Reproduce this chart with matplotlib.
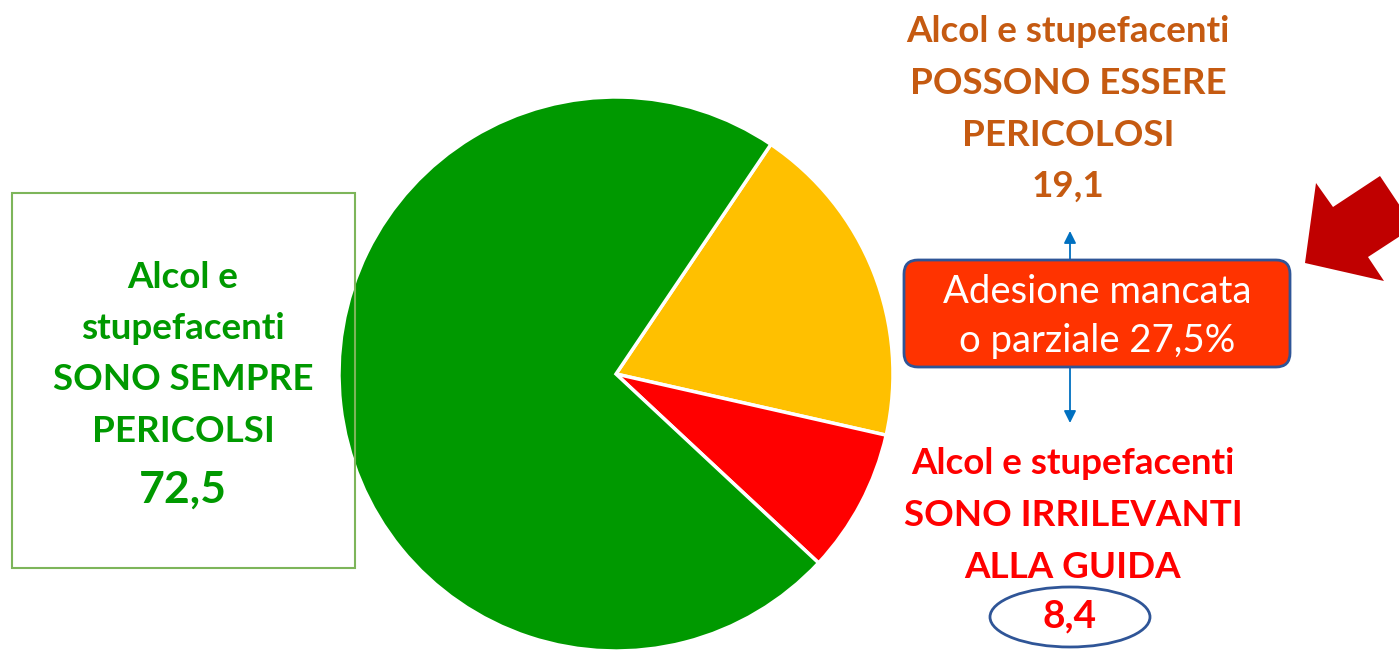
import matplotlib.pyplot as plt
from matplotlib.patches import FancyBboxPatch, Rectangle, Ellipse, Polygon

# risposte (%) alla domanda su alcol e stupefacenti alla guida
labels = ['POSSONO ESSERE PERICOLOSI', 'SONO IRRILEVANTI ALLA GUIDA', 'SONO SEMPRE PERICOLSI']
values = [19.1, 8.4, 72.5]
colors = ['#FFC000', '#FF0000', '#009900']
adesione = 27.5

W, H = 1399, 651
plt.rcParams['font.family'] = ['Lato', 'DejaVu Sans']

fig = plt.figure(figsize=(W / 100, H / 100), dpi=100)
ax = fig.add_axes([0, 0, 1, 1])


def Y(y):
    # coordinate dall'alto verso il basso
    return H - y


ax.pie(values, colors=colors, startangle=56, counterclock=False,
       center=(616, Y(374)), radius=277, frame=True,
       wedgeprops=dict(edgecolor='white', linewidth=2.5))

ax.set_xlim(0, W)
ax.set_ylim(0, H)
ax.set_aspect('equal')
ax.axis('off')


def fmt(v):
    return f'{v:.1f}'.replace('.', ',')


FS = 26.5

# riquadro a sinistra (verde)
ax.add_patch(Rectangle((12, Y(568)), 343, 375, facecolor='none',
                       edgecolor='#7DB55A', linewidth=1.5, zorder=3))
green = '#009900'
for i, line in enumerate(['Alcol e', 'stupefacenti', 'SONO SEMPRE', 'PERICOLSI']):
    ax.text(183, Y(277 + i * 51.5), line, color=green, fontsize=FS,
            fontweight='bold', ha='center', va='center')
ax.text(183, Y(490), fmt(values[2]), color=green, fontsize=32,
        fontweight='bold', ha='center', va='center')

# in alto (arancione)
orange = '#C55A11'
for i, line in enumerate(['Alcol e stupefacenti', 'POSSONO ESSERE', 'PERICOLOSI',
                          fmt(values[0])]):
    ax.text(1068, Y(32 + i * 51.5), line, color=orange, fontsize=FS,
            fontweight='bold', ha='center', va='center')

# in basso (rosso)
red = '#FF0000'
for i, line in enumerate(['Alcol e stupefacenti', 'SONO IRRILEVANTI', 'ALLA GUIDA']):
    ax.text(1073, Y(463 + i * 52), line, color=red, fontsize=FS,
            fontweight='bold', ha='center', va='center')
ax.text(1070, Y(616), fmt(values[1]), color=red, fontsize=28,
        fontweight='bold', ha='center', va='center')
ax.add_patch(Ellipse((1070, Y(617)), 160, 60, facecolor='none',
                     edgecolor='#2F5597', linewidth=2))

# frecce blu
ax.annotate('', xy=(1070, Y(231)), xytext=(1070, Y(262)),
            arrowprops=dict(arrowstyle='-|>', color='#0070C0', lw=1.3,
                            mutation_scale=18, shrinkA=0, shrinkB=0))
ax.annotate('', xy=(1070, Y(423)), xytext=(1070, Y(366)),
            arrowprops=dict(arrowstyle='-|>', color='#0070C0', lw=1.3,
                            mutation_scale=18, shrinkA=0, shrinkB=0))

# riquadro adesione mancata
ax.add_patch(FancyBboxPatch((904, Y(367)), 386, 107,
                            boxstyle='round,pad=0,rounding_size=14',
                            facecolor='#FF3300', edgecolor='#2F5597',
                            linewidth=2, zorder=4))
ax.text(1097, Y(292), 'Adesione mancata', color='white', fontsize=27.5,
        ha='center', va='center', zorder=5)
ax.text(1097, Y(341), f'o parziale {fmt(adesione)}%', color='white',
        fontsize=27.5, ha='center', va='center', zorder=5)

# freccia rossa
pts = [(1305, 263), (1316, 183), (1333, 207), (1380, 176),
       (1414, 227), (1368, 257), (1384, 281)]
ax.add_patch(Polygon([(x, Y(y)) for x, y in pts], closed=True,
                     facecolor='#C00000', edgecolor='none'))

fig.savefig('out.png', dpi=100)
